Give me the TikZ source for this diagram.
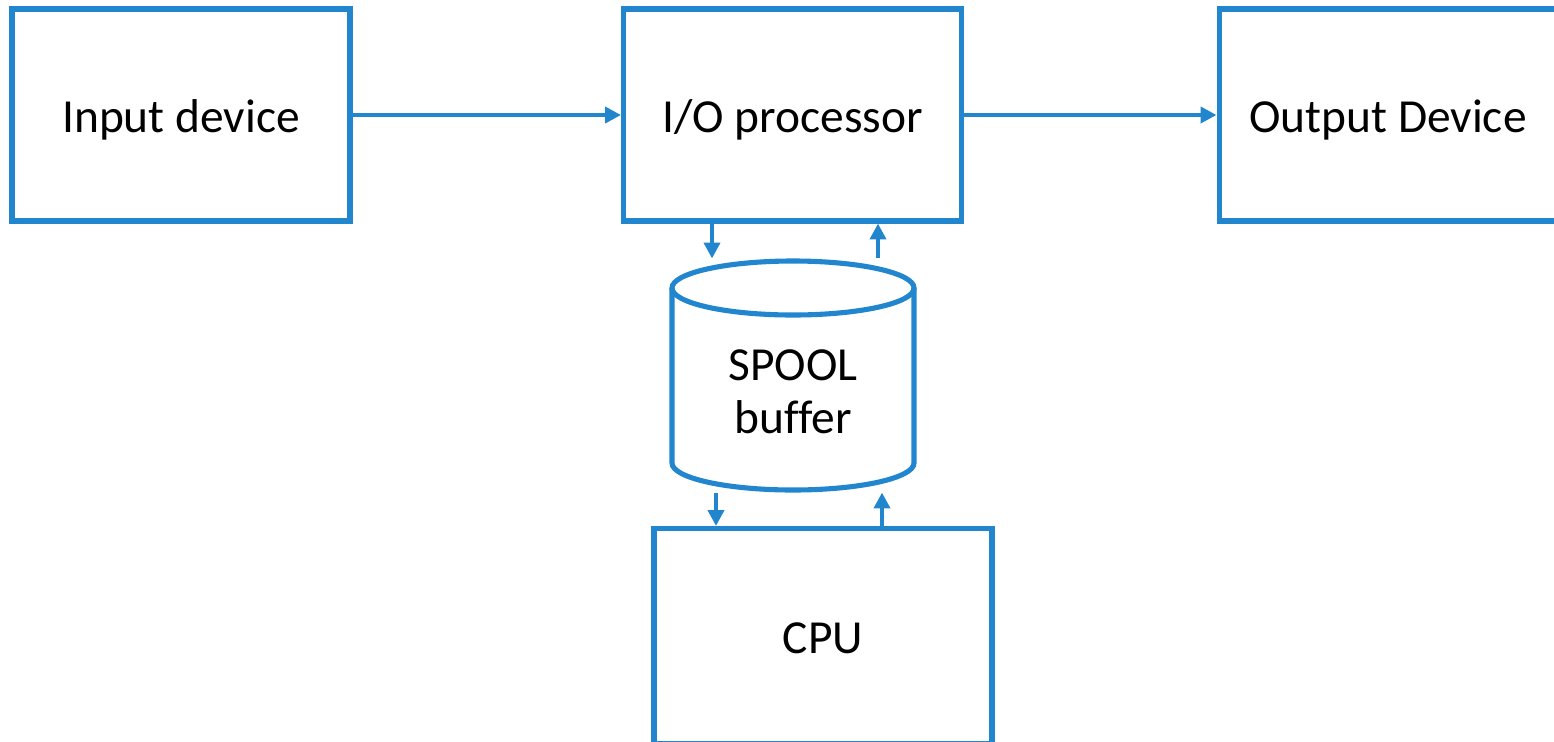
\documentclass[tikz,border=0pt]{standalone}
\usepackage{fontspec}
\setmainfont{Carlito}[Ligatures=NoCommon]
\usetikzlibrary{arrows.meta}
\definecolor{lineblue}{RGB}{33,134,206}
\tikzset{
  x=0.02cm, y=0.02cm,
  box/.style={draw=lineblue, line width=2.9pt, fill=white, inner sep=0pt,
    minimum width=6.76cm, minimum height=4.24cm},
  lbl/.style={font=\fontsize{27}{30.2}\selectfont, inner sep=0pt, yshift=-0.09cm},
  arr/.style={draw=lineblue, line width=2.8pt,
    -{Triangle[length=9pt, width=9pt]}},
  cyl/.style={draw=lineblue, line width=2.9pt}
}
\begin{document}
\begin{tikzpicture}
\useasboundingbox (0,0) rectangle (1554,-741);
\clip (0,0) rectangle (1554,-741);
\fill[white] (0,0) rectangle (1554,-741);

% main blocks
\node[box] (in)  at (181,-115) {};
\node[lbl] (inlbl) at (in.center) {Input device};
\node[box] (io)  at (792.5,-115) {};
\node[lbl] (iolbl) at (io.center) {I/O processor};
\node[box] (out) at (1388,-115) {};
\node[lbl] (outlbl) at (out.center) {Output Device};
\node[box, minimum height=4.3cm] (cpu) at (823,-636) {};
\node[lbl, yshift=0.05cm] (cpulbl) at (cpu.center) {CPU};

% spool buffer drawn as a cylinder
\node[inner sep=0pt, outer sep=1.45pt, minimum width=4.84cm, minimum height=4.58cm] (spool) at (793,-375.5) {};
\draw[cyl] (672,-288) -- (672,-463)
  arc[start angle=180, end angle=360, x radius=121, y radius=27] -- (914,-288);
\draw[cyl] (793,-288) ellipse [x radius=121, y radius=27];
\node[lbl, align=center, yshift=0.09cm] (spoollbl) at (793,-392) {SPOOL\\buffer};

% data flow
\draw[arr] (in.east) -- (io.west);
\draw[arr] (io.east) -- (out.west);
\draw[arr] (io.south -| 712,0) -- (spool.north -| 712,0);
\draw[arr] (spool.north -| 878,0) -- (io.south -| 878,0);
\draw[arr] (spool.south -| 716,0) -- (cpu.north -| 716,0);
\draw[arr] (cpu.north -| 882,0) -- (spool.south -| 882,0);
\end{tikzpicture}
\end{document}
